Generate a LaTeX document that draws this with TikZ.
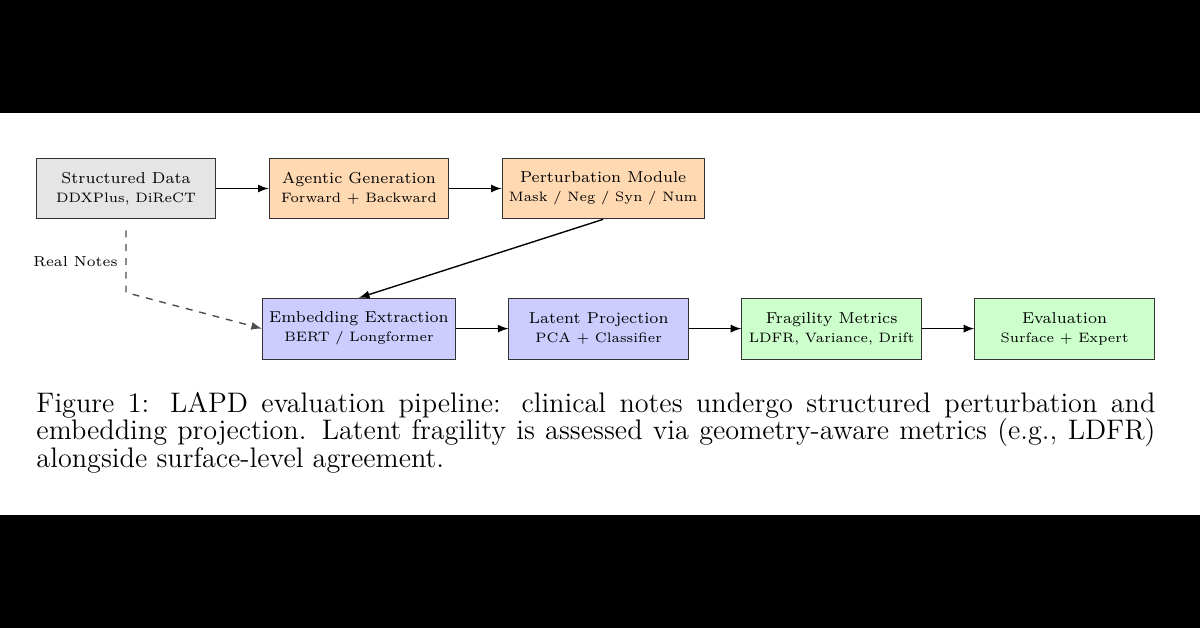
\documentclass[tikz,border=0pt]{standalone}
\usetikzlibrary{positioning}

\begin{document}
\begin{tikzpicture}[node distance={8mm},
    box/.style={draw=black!80, minimum width=2.75cm, minimum height=0.93cm,
        align=center, inner sep=3pt, font=\fontsize{6.9}{8.3}\selectfont}]
    \useasboundingbox (0,0) rectangle (18.36,-9.608);
    \fill[black] (0,0) rectangle (18.36,-1.729);
    \fill[black] (0,-7.88) rectangle (18.36,-9.608);
    \node[box, fill=gray!20] (1) at (1.928,-2.884) {Structured Data\\{\fontsize{5.95}{7}\selectfont DDXPlus, DiReCT}};
    \node[box, fill=orange!30] (2) [right=of 1] {Agentic Generation\\{\fontsize{5.95}{7}\selectfont Forward + Backward}};
    \node[box, fill=orange!30] (3) [right=of 2] {Perturbation Module\\{\fontsize{5.95}{7}\selectfont Mask / Neg / Syn / Num}};
    \node[box, fill=blue!20] (4) [below=1.2cm of 2] {Embedding Extraction\\{\fontsize{5.95}{7}\selectfont BERT / Longformer}};
    \node[box, fill=blue!20] (5) [right=of 4] {Latent Projection\\{\fontsize{5.95}{7}\selectfont PCA + Classifier}};
    \node[box, fill=green!20] (6) [right=of 5] {Fragility Metrics\\{\fontsize{5.95}{7}\selectfont LDFR, Variance, Drift}};
    \node[box, fill=green!20] (7) [right=of 6] {Evaluation\\{\fontsize{5.95}{7}\selectfont Surface + Expert}};
    \coordinate (8) at ([yshift=-1.7mm]1.south);
    \coordinate (9) at ([yshift=-11.2mm]1.south);
\begin{scope}[semithick, -latex]
    \draw (1) -- (2);
    \draw (2) -- (3);
    \draw (3.south) -- (4.north);
    \draw (4) -- (5);
    \draw (5) -- (6);
    \draw (6) -- (7);
    \draw[dashed, black!70] (8) -- node[left, black, font=\fontsize{6.3}{7}\selectfont] {Real Notes} (9) -- (4.west);
\end{scope}
    \node[anchor=north west, inner sep=0pt, text width=17.12cm, align=justify,
      font=\fontsize{12.3}{12}\selectfont] (10) at (0.551,-5.99)
      {Figure 1: LAPD evaluation pipeline: clinical notes undergo structured perturbation and\linebreak embedding projection. Latent fragility is assessed via geometry-aware metrics (e.g., LDFR)\linebreak alongside surface-level agreement.};
\end{tikzpicture}
\end{document}
